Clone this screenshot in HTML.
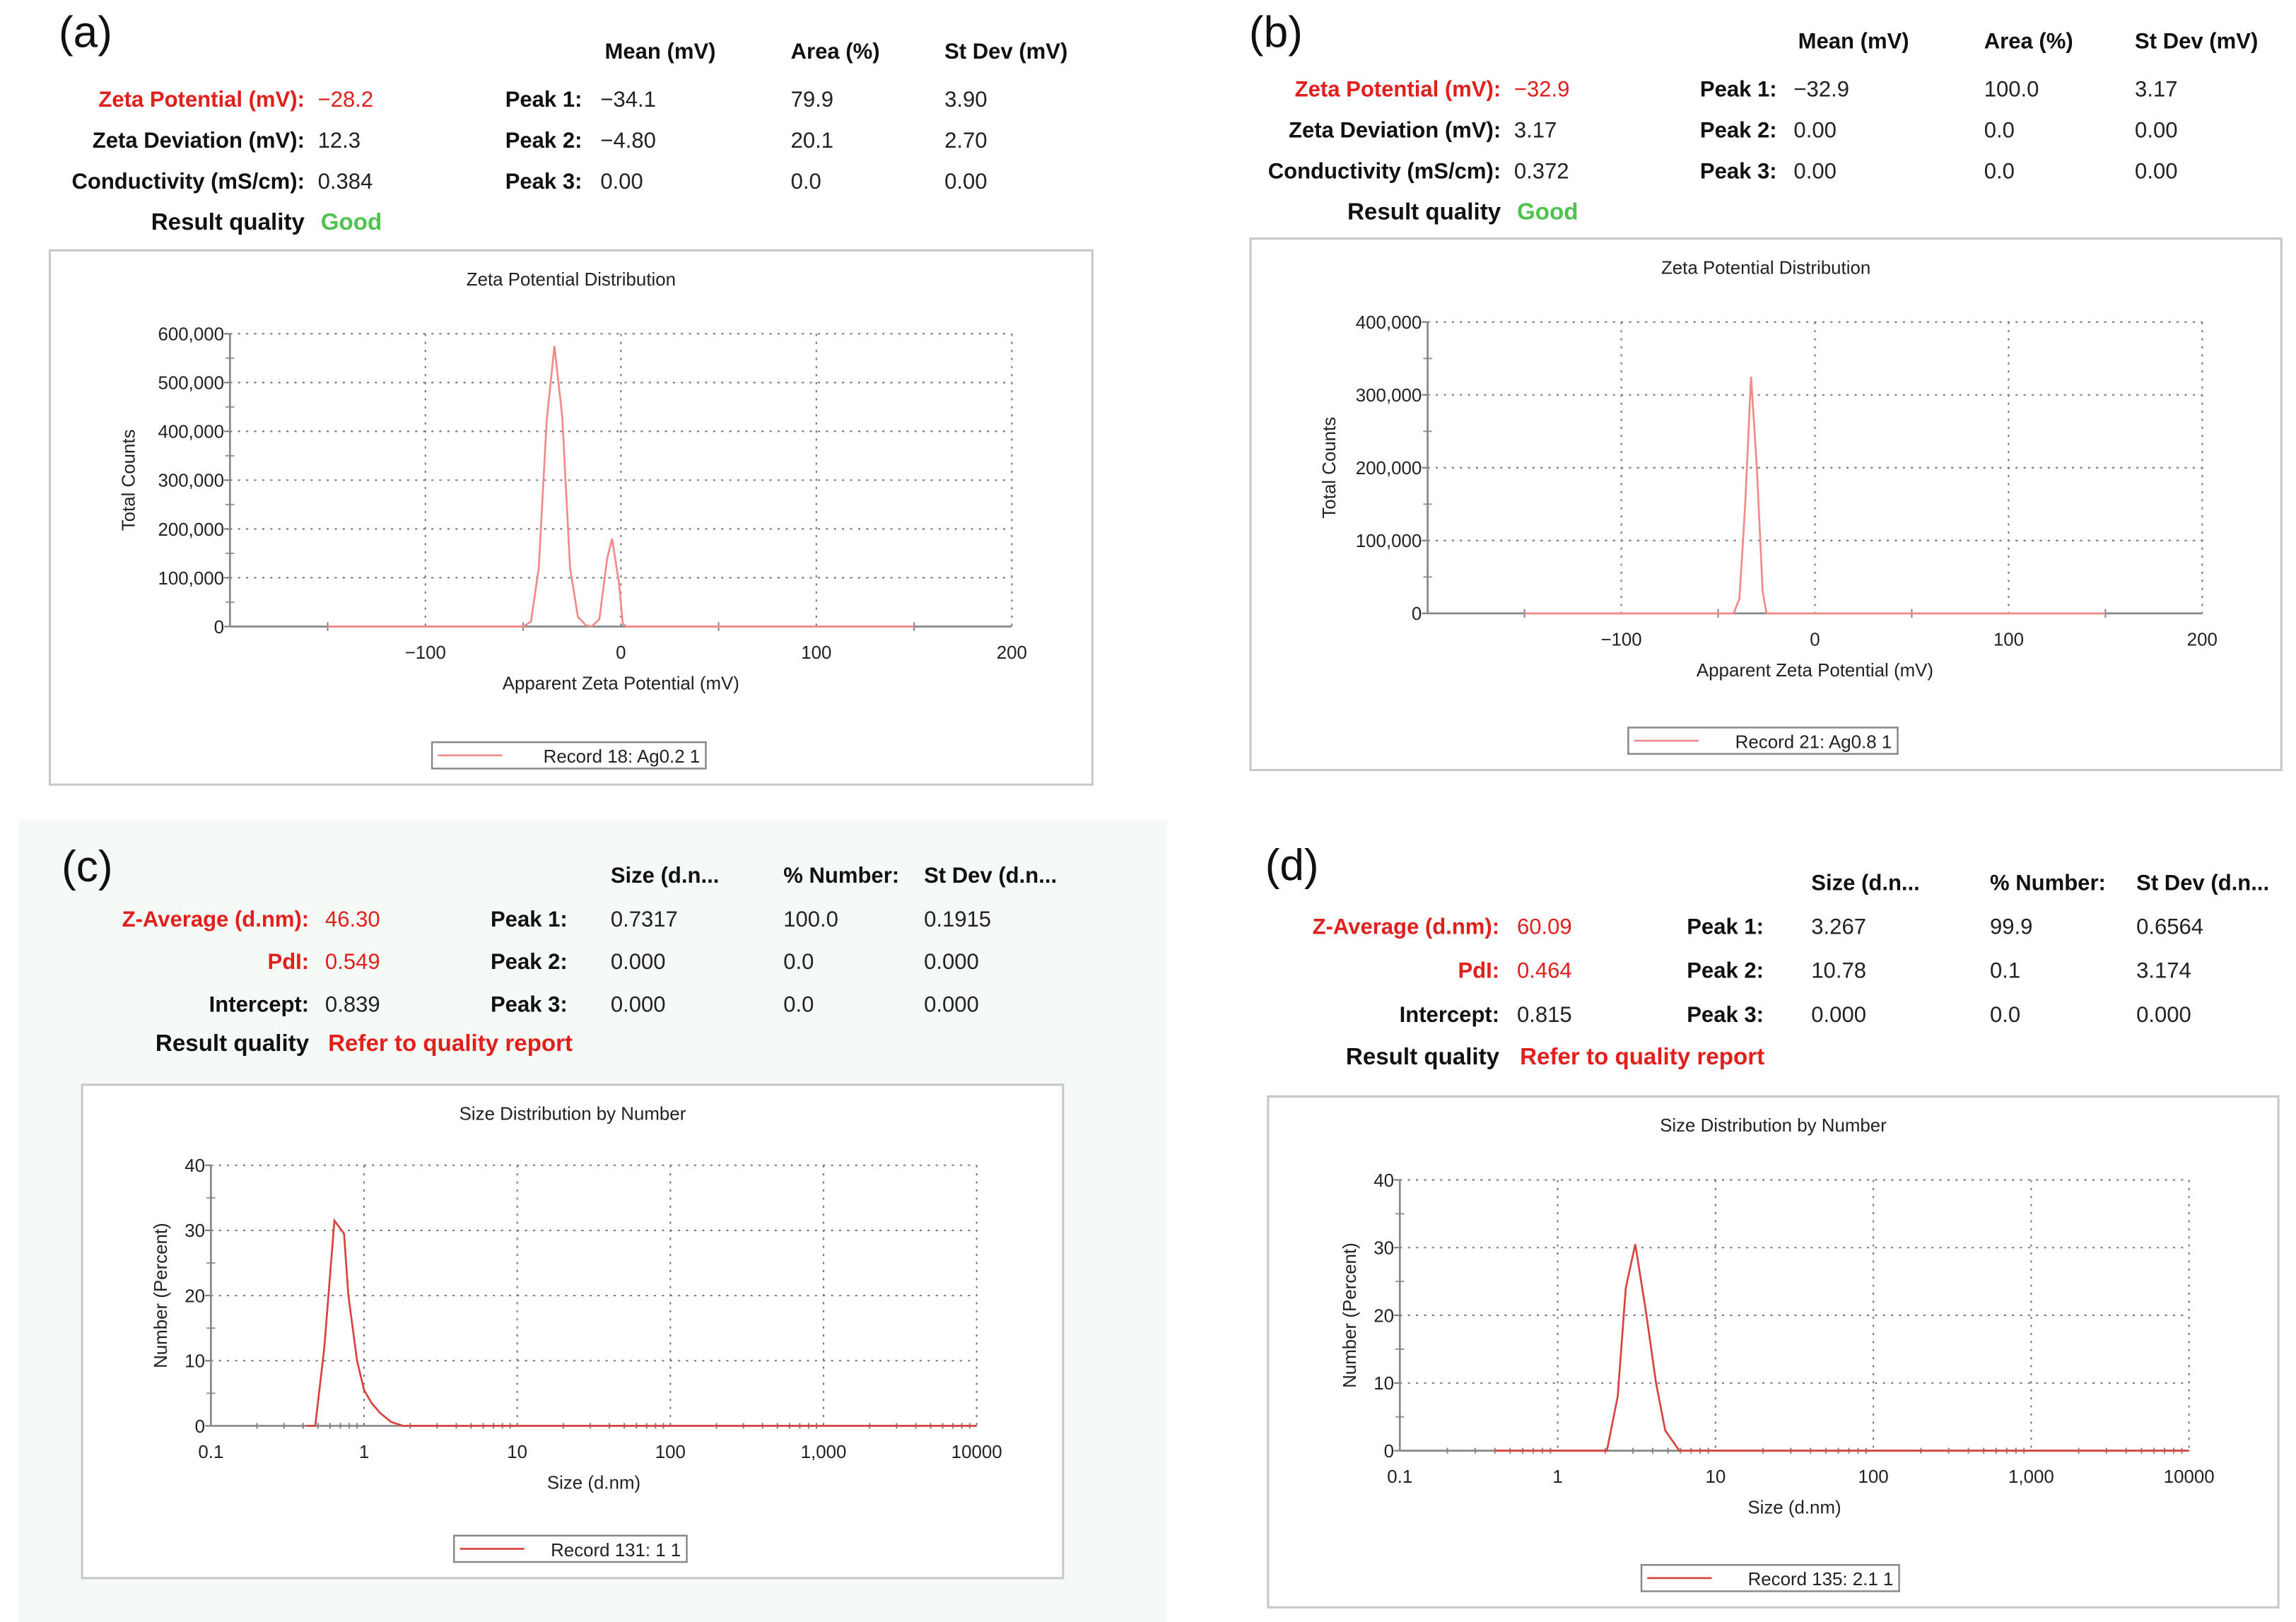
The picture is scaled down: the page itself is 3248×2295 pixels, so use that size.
<!DOCTYPE html>
<html><head><meta charset="utf-8">
<style>
html,body{margin:0;padding:0;background:#fff;}
svg{display:block;}
text{font-family:"Liberation Sans",Arial,sans-serif;}
.lab{font-weight:bold;font-size:15px;fill:#111;}
.val{font-size:15px;fill:#222;}
.red{fill:#e0201c;}
.tick{font-size:12.5px;fill:#222;}
.ttl{font-size:12.5px;fill:#222;}
</style></head>
<body>
<svg id="fig" width="3248" height="2295" viewBox="0 0 1568 1108" xmlns="http://www.w3.org/2000/svg">
<rect x="0" y="0" width="1568" height="1108" fill="#fff"/>
<rect x="13" y="560" width="784" height="548" fill="#f5faf7"/>
<g id="root"></g>
</svg>
<script>
// Panel (a) zeta potential data
const xA = [-150,-50,-46,-42,-38,-34,-30,-26,-22,-18,-15,-11,-7,-4.5,-1,1,3,150];
const yA = [0,0,10000,120000,420000,575000,430000,120000,20000,3000,0,15000,140000,180000,90000,5000,0,0];
// Panel (b) zeta potential data
const xB = [-150,-42,-39,-36,-33,-30,-27,-25,150];
const yB = [0,0,20000,150000,325000,200000,30000,0,0];
// Panel (c) size distribution by number
const xC = [0.42,0.48,0.55,0.64,0.74,0.79,0.9,1.0,1.12,1.27,1.5,1.8,10000];
const yC = [0,0,12,31.5,29.5,20,10,5.5,3.5,2,0.6,0,0];
// Panel (d) size distribution by number
const xD = [0.4,2.05,2.4,2.7,3.1,3.6,4.2,4.8,5.9,10000];
const yD = [0,0,8,24,30.5,21,10,3,0,0];
// tick labels
const zetaXTicks = [-100,0,100,200];
const zetaXLabels = ['\u2212100','0','100','200'];
const yTicksA = [0,100000,200000,300000,400000,500000,600000];
const yLabelsA = ['0','100,000','200,000','300,000','400,000','500,000','600,000'];
const yTicksB = [0,100000,200000,300000,400000];
const yLabelsB = ['0','100,000','200,000','300,000','400,000'];
const sizeXTicks = [0.1,1,10,100,1000,10000];
const sizeXLabels = ['0.1','1','10','100','1,000','10000'];
const yTicksN = [0,10,20,30,40];
const yLabelsN = ['0','10','20','30','40'];

const NS='http://www.w3.org/2000/svg';
const root=document.getElementById('root');
function el(tag,attrs,parent,txt){const e=document.createElementNS(NS,tag);for(const k in attrs)e.setAttribute(k,attrs[k]);if(txt!==undefined)e.textContent=txt;(parent||root).appendChild(e);return e;}

function txt(g,x,y,s,cls,anchor,name,fill){
  const t=el('text',{x:x,y:y,class:cls,'text-anchor':anchor||'start'},g,s);
  if(fill)t.setAttribute('fill',fill);
  
  
  return t;
}

function header(g,o){
  txt(g,o.lx,o.ly,o.letter,'','start','panel-label').setAttribute('style','font-size:30px;fill:#111');
  o.heads.forEach((h,i)=>txt(g,o.cols[i],o.hy,h,'lab','start','column-header'));
  o.rows.forEach((r,i)=>{
    const y=o.ry[i];
    txt(g,o.labR,y,r[0],'lab'+(r[2]?' red':''),'end','summary-label');
    txt(g,o.valX,y,r[1],'val'+(r[2]?' red':''),'start','summary-value');
    txt(g,o.peakX,y,o.peaks[i][0],'lab','start','peak-label');
    for(let k=1;k<4;k++) txt(g,o.cols[k-1]+(o.peakValOff&&k==1?o.peakValOff:0),y,o.peaks[i][k],'val','start','peak-value');
  });
  txt(g,o.labR,o.qy,'Result quality','lab','end','result-quality-label').setAttribute('style','font-size:16px');
  const q=txt(g,o.valX+2,o.qy,o.quality,'lab','start','result-quality-value');
  q.setAttribute('style','font-size:16px;fill:'+o.qcol);
}

function chart(g,c){
  const box=el('rect',{x:c.bx,y:c.by,width:c.bw,height:c.bh,fill:'#fff',stroke:'#c8c8c8','stroke-width':1.5},g);
  
  txt(g,c.bx+c.bw/2,c.by+24,c.title,'ttl','middle','chart-title');
  const sx=c.log?(v=>c.x0+(Math.log10(v)-Math.log10(c.xmin))/(Math.log10(c.xmax)-Math.log10(c.xmin))*(c.x1-c.x0))
                 :(v=>c.x0+(v-c.xmin)/(c.xmax-c.xmin)*(c.x1-c.x0));
  const sy=v=>c.y0-(v/c.ymax)*(c.y0-c.y1);
  c.xticks.forEach((v,i)=>{
    const X=sx(v);
    if(i>0||!c.log){const gl=el('line',{x1:X,y1:c.y1,x2:X,y2:c.y0,stroke:'#777','stroke-width':1,'stroke-dasharray':'1.5 4'},g);}
    txt(g,X,c.y0+22,c.xlabels[i],'tick','middle','x-tick-label');
  });
  c.yticks.forEach((v,i)=>{
    const Y=sy(v);
    if(i>0){const gl=el('line',{x1:c.x0,y1:Y,x2:c.x1,y2:Y,stroke:'#777','stroke-width':1,'stroke-dasharray':'1.5 4'},g);}
    el('line',{x1:c.x0-4,y1:Y,x2:c.x0,y2:Y,stroke:'#777'},g);
    txt(g,c.x0-4,Y+4.5,c.ylabels[i],'tick','end','y-tick-label');
  });
  for(let i=0;i<c.yticks.length-1;i++){const Y=sy((c.yticks[i]+c.yticks[i+1])/2);el('line',{x1:c.x0-3,y1:Y,x2:c.x0+3,y2:Y,stroke:'#999'},g);}
  if(c.log){for(let d=0.1;d<10000;d*=10){for(let m=2;m<10;m++){const X=sx(d*m);el('line',{x1:X,y1:c.y0-2,x2:X,y2:c.y0+2,stroke:'#888'},g);}}}
  else{c.xminor.forEach(v=>{const X=sx(v);el('line',{x1:X,y1:c.y0-3,x2:X,y2:c.y0+3,stroke:'#888'},g);});}
  const ax=el('line',{x1:c.x0,y1:c.y0,x2:c.x1,y2:c.y0,stroke:'#888','stroke-width':1.3},g);
  const ay=el('line',{x1:c.x0,y1:c.y0,x2:c.x0,y2:c.y1,stroke:'#888','stroke-width':1.3},g);
  const pts=c.xs.map((v,i)=>sx(v).toFixed(2)+','+sy(c.ys[i]).toFixed(2)).join(' ');
  const pl=el('polyline',{points:pts,fill:'none',stroke:c.col,'stroke-width':1.3},g);
  
  
  txt(g,(c.x0+c.x1)/2,c.y0+43,c.xtitle,'ttl','middle','x-axis-title');
  const yt=txt(g,c.ytx,c.y1+(c.y0-c.y1)/2,c.ytitle,'ttl','middle','y-axis-title');
  yt.setAttribute('transform','rotate(-90 '+c.ytx+' '+(c.y1+(c.y0-c.y1)/2)+')');
  const lg=el('g',{},g);
  el('rect',{x:c.lx,y:c.ly,width:c.lw,height:18,fill:'#fff',stroke:'#888','stroke-width':1.2},lg);
  el('line',{x1:c.lx+4,y1:c.ly+9,x2:c.lx+48,y2:c.ly+9,stroke:c.col,'stroke-width':1.3},lg);
  txt(lg,c.lx+c.lw-4,c.ly+14,c.legend,'tick','end','legend-entry');
}

const pink='#f28a8a', red2='#d9433f';
const zetaMinor=[-150,-50,50,150];

let g=el('g',{});
header(g,{letter:'(a)',lx:40,ly:32,heads:['Mean (mV)','Area (%)','St Dev (mV)'],cols:[413,540,645],hy:40,
  rows:[['Zeta Potential (mV):','\u221228.2',true],['Zeta Deviation (mV):','12.3'],['Conductivity (mS/cm):','0.384']],
  ry:[73,101,129],labR:208,valX:217,peakX:345,peakValOff:-3,
  peaks:[['Peak 1:','\u221234.1','79.9','3.90'],['Peak 2:','\u22124.80','20.1','2.70'],['Peak 3:',' 0.00','0.0','0.00']],
  qy:157,quality:'Good',qcol:'#4fc24f'});
chart(g,{bx:34,by:171,bw:712,bh:365,title:'Zeta Potential Distribution',x0:157,x1:691,y0:428,y1:228,
  xmin:-200,xmax:200,ymax:600000,xticks:zetaXTicks,xlabels:zetaXLabels,yticks:yTicksA,ylabels:yLabelsA,xminor:zetaMinor,
  xs:xA,ys:yA,col:pink,xtitle:'Apparent Zeta Potential (mV)',ytitle:'Total Counts',ytx:92,lx:295,ly:507,lw:187,legend:'Record 18: Ag0.2 1'});

g=el('g',{});
header(g,{letter:'(b)',lx:853,ly:32,heads:['Mean (mV)','Area (%)','St Dev (mV)'],cols:[1228,1355,1458],hy:33,
  rows:[['Zeta Potential (mV):','\u221232.9',true],['Zeta Deviation (mV):','3.17'],['Conductivity (mS/cm):','0.372']],
  ry:[66,94,122],labR:1025,valX:1034,peakX:1161,peakValOff:-3,
  peaks:[['Peak 1:','\u221232.9','100.0','3.17'],['Peak 2:',' 0.00','0.0','0.00'],['Peak 3:',' 0.00','0.0','0.00']],
  qy:150,quality:'Good',qcol:'#4fc24f'});
chart(g,{bx:854,by:163,bw:704,bh:363,title:'Zeta Potential Distribution',x0:975,x1:1504,y0:419,y1:220,
  xmin:-200,xmax:200,ymax:400000,xticks:zetaXTicks,xlabels:zetaXLabels,yticks:yTicksB,ylabels:yLabelsB,xminor:zetaMinor,
  xs:xB,ys:yB,col:pink,xtitle:'Apparent Zeta Potential (mV)',ytitle:'Total Counts',ytx:912,lx:1112,ly:497,lw:184,legend:'Record 21: Ag0.8 1'});

g=el('g',{});
header(g,{letter:'(c)',lx:42,ly:602,heads:['Size (d.n...','% Number:','St Dev (d.n...'],cols:[417,535,631],hy:603,
  rows:[['Z-Average (d.nm):','46.30',true],['PdI:','0.549',true],['Intercept:','0.839']],
  ry:[633,662,691],labR:211,valX:222,peakX:335,
  peaks:[['Peak 1:','0.7317','100.0','0.1915'],['Peak 2:','0.000','0.0','0.000'],['Peak 3:','0.000','0.0','0.000']],
  qy:718,quality:'Refer to quality report',qcol:'#e0201c'});
chart(g,{bx:56,by:741,bw:670,bh:337,title:'Size Distribution by Number',x0:144,x1:667,y0:974,y1:796,log:true,
  xmin:0.1,xmax:10000,ymax:40,xticks:sizeXTicks,xlabels:sizeXLabels,yticks:yTicksN,ylabels:yLabelsN,
  xs:xC,ys:yC,col:red2,xtitle:'Size (d.nm)',ytitle:'Number (Percent)',ytx:114,lx:310,ly:1049,lw:159,legend:'Record 131: 1 1'});

g=el('g',{});
header(g,{letter:'(d)',lx:864,ly:601,heads:['Size (d.n...','% Number:','St Dev (d.n...'],cols:[1237,1359,1459],hy:608,
  rows:[['Z-Average (d.nm):','60.09',true],['PdI:','0.464',true],['Intercept:','0.815']],
  ry:[638,668,698],labR:1024,valX:1036,peakX:1152,
  peaks:[['Peak 1:','3.267','99.9','0.6564'],['Peak 2:','10.78','0.1','3.174'],['Peak 3:','0.000','0.0','0.000']],
  qy:727,quality:'Refer to quality report',qcol:'#e0201c'});
chart(g,{bx:866,by:749,bw:690,bh:349,title:'Size Distribution by Number',x0:956,x1:1495,y0:991,y1:806,log:true,
  xmin:0.1,xmax:10000,ymax:40,xticks:sizeXTicks,xlabels:sizeXLabels,yticks:yTicksN,ylabels:yLabelsN,
  xs:xD,ys:yD,col:red2,xtitle:'Size (d.nm)',ytitle:'Number (Percent)',ytx:926,lx:1121,ly:1069,lw:176,legend:'Record 135: 2.1 1'});
</script>
</body></html>
